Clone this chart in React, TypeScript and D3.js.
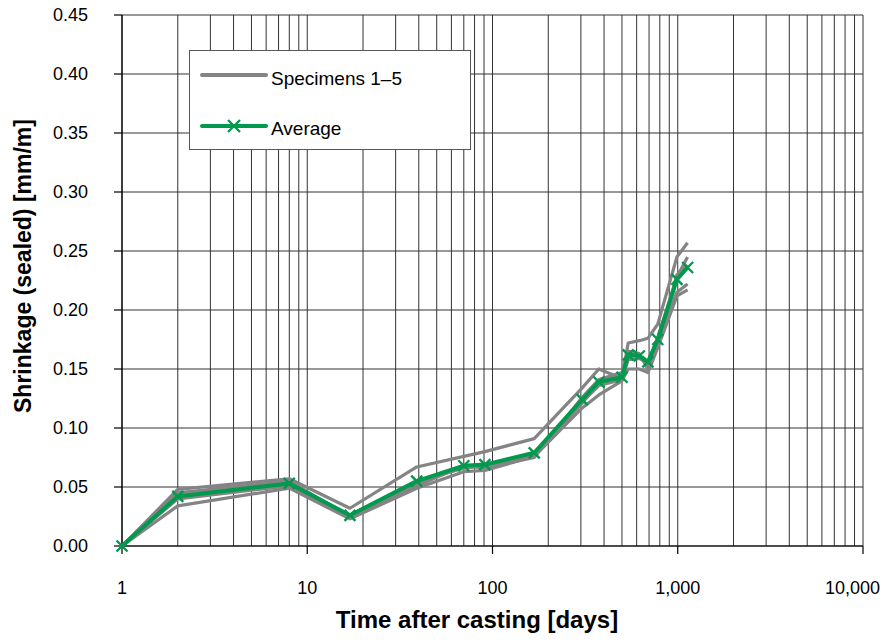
import React from "react";
import * as d3 from "d3";

// Age of the concrete at each measurement [days]
const days = [1, 2, 8, 17, 39, 70, 91, 168, 305, 375, 500, 540, 620, 690, 780, 990, 1130];

// Sealed shrinkage of each specimen [mm/m]
const specimen1 = [0, 0.048, 0.057, 0.032, 0.067, 0.076, 0.080, 0.091, 0.134, 0.150, 0.142, 0.172, 0.174, 0.176, 0.188, 0.245, 0.257];
const specimen2 = [0, 0.034, 0.049, 0.023, 0.049, 0.063, 0.064, 0.076, 0.117, 0.128, 0.140, 0.150, 0.150, 0.147, 0.168, 0.212, 0.217];
const specimen3 = [0, 0.045, 0.055, 0.025, 0.053, 0.067, 0.068, 0.078, 0.122, 0.136, 0.141, 0.158, 0.159, 0.155, 0.172, 0.215, 0.222];
const specimen4 = [0, 0.043, 0.053, 0.026, 0.055, 0.066, 0.068, 0.077, 0.121, 0.140, 0.146, 0.165, 0.163, 0.150, 0.170, 0.230, 0.238];
const specimen5 = [0, 0.040, 0.051, 0.024, 0.051, 0.068, 0.066, 0.075, 0.126, 0.141, 0.147, 0.165, 0.160, 0.154, 0.177, 0.228, 0.245];
const specimens = [specimen1, specimen2, specimen3, specimen4, specimen5];

// Mean of the five specimens [mm/m]
const average = [0, 0.042, 0.053, 0.026, 0.055, 0.068, 0.069, 0.079, 0.124, 0.139, 0.143, 0.162, 0.161, 0.156, 0.175, 0.226, 0.236];

const xTickValues = [1, 10, 100, 1000, 10000];
const yTickValues = [0, 0.05, 0.1, 0.15, 0.2, 0.25, 0.3, 0.35, 0.4, 0.45];
const legendLabels = ["Specimens 1\u20135", "Average"];

const W = 882;
const H = 642;
const M = { left: 122, right: 19, top: 15, bottom: 96 };
const FONT = "'Liberation Sans', Arial, Helvetica, sans-serif";
const GRAY = "#848484";
const GREEN = "#009a4e";

export default function App() {
  const x = d3.scaleLog().domain([1, 10000]).range([M.left, W - M.right]);
  const y = d3.scaleLinear().domain([0, 0.45]).range([H - M.bottom, M.top]);

  const minorX: number[] = [];
  for (let k = 0; k < 4; k++) {
    for (let m = 2; m <= 9; m++) minorX.push(m * Math.pow(10, k));
  }

  const line = d3
    .line<[number, number]>()
    .x((d) => x(d[0]))
    .y((d) => y(d[1]));

  const seriesPts = (vals: number[]) => days.map((d, i) => [d, vals[i]] as [number, number]);
  const fmtX = d3.format(",");

  const x0 = M.left;
  const x1 = W - M.right;
  const y0 = H - M.bottom;
  const y1 = M.top;

  const cross = (cx: number, cy: number, s: number, key: string | number) => (
    <path
      key={key}
      d={`M${cx - s},${cy - s}L${cx + s},${cy + s}M${cx - s},${cy + s}L${cx + s},${cy - s}`}
      stroke={GREEN}
      strokeWidth={2.4}
      fill="none"
    />
  );

  // Legend geometry
  const lg = { x: 189.5, y: 50.5, w: 281, h: 99 };

  return (
    <div style={{ position: "fixed", left: 0, top: 0 }}>
      <svg width={W} height={H} style={{ display: "block", background: "#fff" }} fontFamily={FONT}>
        {/* grid */}
        <g stroke="#333" strokeWidth={1}>
          {minorX.map((v) => (
            <line key={"mx" + v} x1={x(v)} x2={x(v)} y1={y1} y2={y0} />
          ))}
          {xTickValues.map((v) => (
            <line key={"gx" + v} x1={x(v)} x2={x(v)} y1={y1} y2={y0} />
          ))}
          {yTickValues.map((v) => (
            <line key={"gy" + v} x1={x0} x2={x1} y1={y(v)} y2={y(v)} />
          ))}
        </g>

        {/* axes and ticks */}
        <g stroke="#000" strokeWidth={1.2}>
          <line x1={x0} x2={x0} y1={y1} y2={y0} />
          <line x1={x0} x2={x1} y1={y0} y2={y0} />
          {yTickValues.map((v) => (
            <line key={"ty" + v} x1={x0 - 8} x2={x0} y1={y(v)} y2={y(v)} />
          ))}
          {xTickValues.map((v) => (
            <line key={"tx" + v} x1={x(v)} x2={x(v)} y1={y0} y2={y0 + 8} />
          ))}
        </g>

        {/* tick labels */}
        <g fontSize={18} fill="#000">
          {yTickValues.map((v) => (
            <text key={"ly" + v} x={x0 - 34} y={y(v)} dy="0.35em" textAnchor="end">
              {v.toFixed(2)}
            </text>
          ))}
          {xTickValues.map((v, i) => {
            const last = i === xTickValues.length - 1;
            return (
              <text
                key={"lx" + v}
                x={last ? W - 2 : x(v)}
                y={y0 + 42}
                dy="0.35em"
                textAnchor={last ? "end" : "middle"}
              >
                {fmtX(v)}
              </text>
            );
          })}
        </g>

        {/* axis titles */}
        <text x={477} y={628} textAnchor="middle" fontSize={24} fontWeight="bold">
          Time after casting [days]
        </text>
        <text
          transform={`translate(31,266) rotate(-90)`}
          textAnchor="middle"
          fontSize={23}
          fontWeight="bold"
        >
          Shrinkage (sealed) [mm/m]
        </text>

        {/* specimens */}
        <g fill="none" stroke={GRAY} strokeWidth={3.2} strokeLinejoin="round">
          {specimens.map((s, i) => (
            <path key={"s" + i} d={line(seriesPts(s)) ?? ""} />
          ))}
        </g>

        {/* average */}
        <path d={line(seriesPts(average)) ?? ""} fill="none" stroke={GREEN} strokeWidth={4} strokeLinejoin="round" />
        <g>{days.map((d, i) => cross(x(d), y(average[i]), 5.5, "a" + i))}</g>

        {/* legend */}
        <g>
          <rect x={lg.x} y={lg.y} width={lg.w} height={lg.h} fill="#fff" stroke="#555" strokeWidth={1} />
          <line x1={202} x2={266} y1={75} y2={75} stroke={GRAY} strokeWidth={4} strokeLinecap="round" />
          <text x={271} y={85} fontSize={19}>
            {legendLabels[0]}
          </text>
          <line x1={202} x2={266} y1={126} y2={126} stroke={GREEN} strokeWidth={4} strokeLinecap="round" />
          {cross(234, 126, 6, "lgx")}
          <text x={271} y={135} fontSize={19}>
            {legendLabels[1]}
          </text>
        </g>
      </svg>
    </div>
  );
}
